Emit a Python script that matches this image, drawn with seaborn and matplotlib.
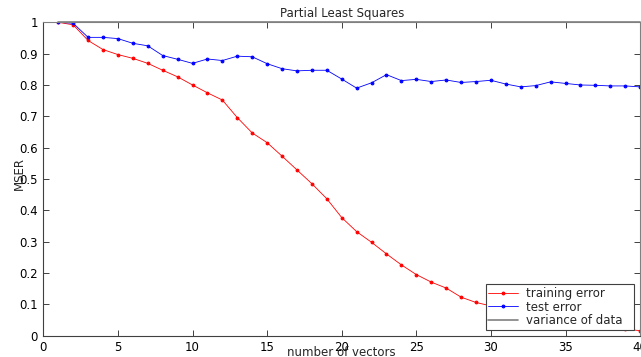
import numpy as np
import pandas as pd
import matplotlib
matplotlib.use("Agg")
import matplotlib.pyplot as plt
import seaborn as sns

n_vectors = list(range(1, 41))
training_error = [1.000, 0.992, 0.942, 0.913, 0.897, 0.885, 0.869, 0.847, 0.826, 0.800,
                  0.775, 0.752, 0.696, 0.647, 0.616, 0.573, 0.529, 0.485, 0.437, 0.377,
                  0.332, 0.298, 0.261, 0.226, 0.195, 0.171, 0.152, 0.123, 0.106, 0.095,
                  0.083, 0.073, 0.064, 0.055, 0.047, 0.040, 0.033, 0.027, 0.021, 0.016]
test_error = [1.000, 0.997, 0.952, 0.952, 0.948, 0.933, 0.925, 0.894, 0.882, 0.869,
              0.883, 0.878, 0.892, 0.890, 0.868, 0.852, 0.845, 0.847, 0.847, 0.819,
              0.790, 0.807, 0.833, 0.814, 0.818, 0.811, 0.816, 0.808, 0.811, 0.815,
              0.803, 0.794, 0.798, 0.810, 0.805, 0.800, 0.799, 0.797, 0.797, 0.794]
variance_of_data = [1.0] * 40

labels = ["training error", "test error", "variance of data"]
x_ticks = [0, 5, 10, 15, 20, 25, 30, 35, 40]
y_ticks = [0, 0.1, 0.2, 0.3, 0.4, 0.5, 0.6, 0.7, 0.8, 0.9, 1]
y_ticklabels = ["0", "0.1", "0.2", "0.3", "0.4", "0.5", "0.6", "0.7", "0.8", "0.9", "1"]

sns.set_theme(style="ticks")
plt.rcParams["font.family"] = ["DejaVu Sans"]

df_train = pd.DataFrame({"x": n_vectors, "y": training_error})
df_test = pd.DataFrame({"x": n_vectors, "y": test_error})
df_var = pd.DataFrame({"x": n_vectors, "y": variance_of_data})

fs = 8.5

fig = plt.figure(figsize=(6.41, 3.57), dpi=100)
ax = fig.add_axes([0.0676, 0.0597, 0.931, 0.8778])

sns.lineplot(data=df_train, x="x", y="y", ax=ax, color="#ff0000", linewidth=0.6,
             marker=".", markersize=4, markeredgecolor="#ff0000", label=labels[0])
sns.lineplot(data=df_test, x="x", y="y", ax=ax, color="#0000ff", linewidth=0.6,
             marker=".", markersize=4, markeredgecolor="#0000ff", label=labels[1])
sns.lineplot(data=df_var, x="x", y="y", ax=ax, color="#808080", linewidth=1.2,
             label=labels[2], clip_on=False)

ax.set_xlim(0, 40)
ax.set_ylim(0, 1)
ax.set_xticks(x_ticks)
ax.set_yticks(y_ticks)
ax.set_yticklabels(y_ticklabels)

for side in ["left", "bottom"]:
    ax.spines[side].set_color("#404040")
    ax.spines[side].set_linewidth(0.8)
for side in ["top", "right"]:
    ax.spines[side].set_visible(True)
    ax.spines[side].set_color("#808080")
    ax.spines[side].set_linewidth(0.8)

ax.tick_params(direction="in", length=4.3, width=0.7, color="#404040",
               labelsize=fs, top=True, right=True, pad=4, labelcolor="black")

ax.set_title("Partial Least Squares", fontsize=fs, pad=3.6)
ax.set_xlabel("number of vectors", fontsize=fs)
ax.set_ylabel("MSER", fontsize=fs)
ax.xaxis.set_label_coords(0.499, -0.034)
ax.yaxis.set_label_coords(-0.029, 0.516)

leg = ax.legend(loc="lower left", bbox_to_anchor=(0.741, 0.018, 0.248, 0.128),
                mode="expand", fontsize=fs, frameon=True, fancybox=False,
                borderpad=0.25, labelspacing=0.05, handlelength=2.5,
                handletextpad=0.65, borderaxespad=0)
leg.get_frame().set_edgecolor("#404040")
leg.get_frame().set_linewidth(0.8)
leg.get_frame().set_alpha(1)

fig.savefig("out.png", dpi=100)
